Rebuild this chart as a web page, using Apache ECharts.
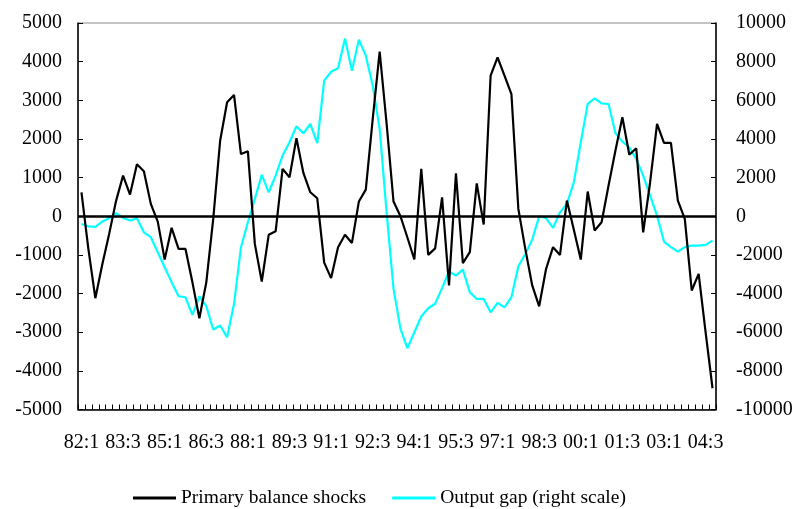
<!DOCTYPE html>
<html>
<head>
<meta charset="utf-8">
<script src="https://cdn.jsdelivr.net/npm/echarts@6/dist/echarts.min.js"></script>
<style>html,body{margin:0;padding:0;background:#fff;}#c{width:798px;height:509px;}</style>
</head>
<body>
<div id="c"></div>
<script>
// Quarterly categories 82:1 .. 04:4
const startYear = 1982, endYear = 2004;
const categories = [];
for (let y = startYear; y <= endYear; y++) {
  for (let q = 1; q <= 4; q++) categories.push(String(y % 100).padStart(2, '0') + ':' + q);
}
const leftTicks = [-5000, 5000, 1000];
const rightTicks = [-10000, 10000, 2000];

const primaryBalanceShocks = [
  620, -850, -2120, -1250, -450, 405, 1050, 560, 1345, 1165,
  320, -140, -1120, -300, -845, -845, -1710, -2640, -1710, -70,
  1960, 2950, 3140, 1610, 1680, -715, -1690, -480, -390, 1225,
  1010, 2020, 1120, 620, 465, -1200, -1600, -800, -480, -690,
  380, 690, 2520, 4260, 2400, 380, 0, -550, -1120, 1225,
  -1000, -830, 490, -1790, 1110, -1215, -930, 850, -215, 3640,
  4110, 3640, 3160, 190, -845, -1790, -2330, -1360, -800, -1000,
  405, -350, -1120, 640, -370, -155, 790, 1700, 2560, 1590,
  1760, -415, 880, 2390, 1900, 1900, 405, -70, -1920, -1490,
  -3000, -4450
];
const outputGap = [
  -400, -520, -550, -275, -100, 155, -85, -225, -100, -830,
  -1085, -1860, -2640, -3410, -4140, -4190, -5100, -4140, -4655, -5860,
  -5655, -6260, -4530, -1600, -310, 900, 2140, 1240, 2100, 3140,
  3830, 4655, 4290, 4775, 3790, 7020, 7480, 7655, 9200, 7530,
  9140, 8310, 6760, 4520, 200, -3760, -5830, -6830, -6000, -5190,
  -4760, -4530, -3720, -2860, -3070, -2760, -3930, -4280, -4280, -4970,
  -4480, -4710, -4190, -2590, -1950, -1210, 0, -100, -600, 200,
  640, 1760, 3830, 5810, 6100, 5840, 5810, 4310, 3860, 3570,
  2970, 2100, 1070, 30, -1310, -1600, -1830, -1600, -1520, -1520,
  -1480, -1260
];
const seriesNames = ['Primary balance shocks', 'Output gap (right scale)'];

const font = 'Liberation Serif, Times New Roman, serif';
const fs = 20;
const plain = v => String(v);
const chart = echarts.init(document.getElementById('c'), null, {renderer: 'canvas'});
chart.setOption({
  animation: false,
  backgroundColor: '#fff',
  textStyle: {fontFamily: font, color: '#000'},
  grid: {left: 78, right: 82, top: 23, bottom: 99.5, show: true, borderColor: '#8a8a8a', borderWidth: 1, backgroundColor: 'transparent', containLabel: false},
  legend: {
    left: 128, top: 483,
    icon: 'rect', itemWidth: 43, itemHeight: 3, itemGap: 26,
    textStyle: {fontFamily: font, fontSize: 19.5, color: '#000'},
    data: seriesNames
  },
  xAxis: {
    type: 'category', data: categories, boundaryGap: true,
    axisLine: {show: true, onZero: false, lineStyle: {color: '#000', width: 1.5}},
    axisTick: {show: true, inside: true, length: 5, interval: 0, alignWithLabel: false, lineStyle: {color: '#000', width: 1}},
    axisLabel: {interval: 5, margin: 23, fontFamily: font, fontSize: fs, color: '#000'},
    splitLine: {show: false}
  },
  yAxis: [
    {
      type: 'value', min: leftTicks[0], max: leftTicks[1], interval: leftTicks[2],
      axisLine: {show: true, lineStyle: {color: '#000', width: 1.5}},
      axisTick: {show: true, inside: true, length: 5, lineStyle: {color: '#000'}},
      axisLabel: {margin: 16, fontFamily: font, fontSize: fs, color: '#000', formatter: plain},
      splitLine: {show: false}
    },
    {
      type: 'value', min: rightTicks[0], max: rightTicks[1], interval: rightTicks[2],
      axisLine: {show: true, lineStyle: {color: '#000', width: 1.5}},
      axisTick: {show: true, inside: true, length: 5, lineStyle: {color: '#000'}},
      axisLabel: {margin: 20, fontFamily: font, fontSize: fs, color: '#000', formatter: plain},
      splitLine: {show: false}
    }
  ],
  series: [
    {
      name: seriesNames[1], type: 'line', yAxisIndex: 1, data: outputGap,
      symbol: 'none', showSymbol: false,
      itemStyle: {color: '#00ffff'},
      lineStyle: {color: '#00ffff', width: 2.2}, z: 2
    },
    {
      name: seriesNames[0], type: 'line', yAxisIndex: 0, data: primaryBalanceShocks,
      symbol: 'none', showSymbol: false,
      itemStyle: {color: '#000'},
      lineStyle: {color: '#000', width: 2.2}, z: 3,
      markLine: {
        silent: true, symbol: ['none', 'none'], label: {show: false},
        lineStyle: {color: '#000', width: 2.5, type: 'solid'},
        data: [{yAxis: 0}]
      }
    }
  ]
});
</script>
</body>
</html>
